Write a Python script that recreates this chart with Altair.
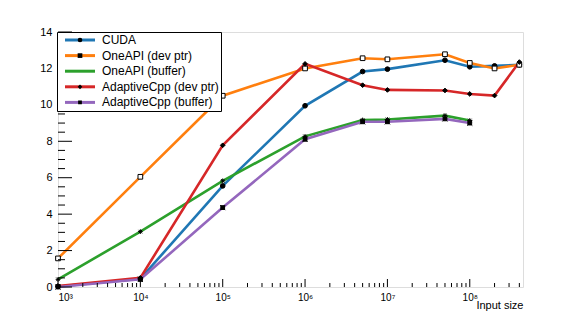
import altair as alt
import pandas as pd

sizes = [1e3, 1e4, 1e5, 1e6, 5e6, 1e7, 5e7, 1e8, 2e8, 4e8]
series_names = ["CUDA", "OneAPI (dev ptr)", "OneAPI (buffer)", "AdaptiveCpp (dev ptr)", "AdaptiveCpp (buffer)"]
colors = ["#1f77b4", "#ff7f0e", "#2ca02c", "#d62728", "#9467bd"]

cuda = [0.03, 0.45, 5.55, 9.95, 11.83, 11.96, 12.45, 12.09, 12.14, 12.2]
oneapi_dev = [1.57, 6.05, 10.5, 12.0, 12.56, 12.5, 12.78, 12.3, 12.0, 12.2]
oneapi_buf = [0.42, 3.04, 5.83, 8.27, 9.17, 9.2, 9.41, 9.14]
acpp_dev = [0.05, 0.5, 7.78, 12.25, 11.08, 10.82, 10.79, 10.6, 10.51, 12.35]
acpp_buf = [0.0, 0.42, 4.36, 8.11, 9.07, 9.07, 9.23, 9.0]

x_major = [1e3, 1e4, 1e5, 1e6, 1e7, 1e8]
x_minor = [m * d for d in [1e3, 1e4, 1e5, 1e6, 1e7, 1e8] for m in range(2, 10) if m * d <= 4.4e8]
y_major = [0, 2, 4, 6, 8, 10, 12, 14]
y_minor = [v / 2 for v in range(0, 29) if v % 4 != 0]

rows = []
for name, vals in zip(series_names, [cuda, oneapi_dev, oneapi_buf, acpp_dev, acpp_buf]):
    for i, (s, v) in enumerate(zip(sizes, vals)):
        rows.append({"size": s, "value": v, "series": name, "series2": name, "ord": i})
df = pd.DataFrame(rows)

W, H = 465, 255
xscale = alt.Scale(type="log", domain=[1000, 4.43e8], nice=False)
yscale = alt.Scale(domain=[0, 14], nice=False)

sup = "{'0':'⁰','1':'¹','2':'²','3':'³','4':'⁴','5':'⁵','6':'⁶','7':'⁷','8':'⁸','9':'⁹'}"
def xaxis():
    return alt.Axis(values=x_major, ticks=False, domain=False, grid=False, labelFontSize=10,
                    labelPadding=5, labelOverlap=False,
                    labelExpr="'10' + " + sup + "[format(log(datum.value)/log(10), '.0f')]",
                    title="Input size", titleAnchor="end", titleAlign="right", titleX=W, titleY=12,
                    titleBaseline="top", titleFontSize=11, titleFontWeight="normal")
def yaxis():
    return alt.Axis(values=y_major, ticks=False, domain=False, grid=False, labelFontSize=11,
                    labelPadding=6, labelOverlap=False, title=None)

FS = 12
PAD = 2
RP = 3.6
lines = alt.Chart(df).mark_line(strokeWidth=2.6).encode(
    x=alt.X("size:Q", scale=xscale, axis=xaxis()),
    y=alt.Y("value:Q", scale=yscale, axis=yaxis()),
    color=alt.Color("series:N", scale=alt.Scale(domain=series_names, range=colors),
                    legend=alt.Legend(orient="none", legendX=-1, legendY=0, title=None,
                                      fillColor="white", strokeColor="black", padding=PAD,
                                      symbolType="M0,0L20,0", symbolSize=9, symbolStrokeWidth=3,
                                      labelFontSize=FS, labelOffset=31, rowPadding=RP,
                                      labelExpr="datum.label + '   '",
                                      labelFont="Liberation Sans")),
    order="ord:Q",
)

shape_paths = [
    "circle",
    "square",
    "M0,-1L0,1M-1,0L1,0M-0.75,-0.75L0.75,0.75M-0.75,0.75L0.75,-0.75",
    "diamond",
    "M-0.8,-0.8L0.8,-0.8L0.8,0.8L-0.8,0.8Z M-1.1,-1.1L1.1,1.1M-1.1,1.1L1.1,-1.1",
]
MS = 22
points = alt.Chart(df).mark_point(filled=False, strokeWidth=1, color="black", size=MS, opacity=1).encode(
    x=alt.X("size:Q", scale=xscale, axis=xaxis()),
    y=alt.Y("value:Q", scale=yscale, axis=yaxis()),
    shape=alt.Shape("series2:N", scale=alt.Scale(domain=series_names, range=shape_paths),
                    legend=alt.Legend(orient="none", legendX=14, legendY=0, title=None, padding=PAD,
                                      symbolSize=MS, symbolStrokeColor="black",
                                      symbolFillColor={"expr": "datum.value === 'OneAPI (dev ptr)' ? 'white' : 'black'"},
                                      symbolStrokeWidth=1, labelExpr="' '",
                                      labelFontSize=FS, labelOffset=7, rowPadding=RP,
                                      labelFont="Liberation Sans")),
    fill=alt.condition(alt.datum.series == "OneAPI (dev ptr)", alt.value("white"), alt.value("black")),
)

def xt(vals, length):
    return alt.Chart(pd.DataFrame({"v": vals})).mark_rule(color="black", strokeWidth=1).encode(
        x=alt.X("v:Q", scale=xscale, axis=xaxis()), y=alt.value(H), y2=alt.value(H - length))
def yt(vals, length):
    return alt.Chart(pd.DataFrame({"v": vals})).mark_rule(color="black", strokeWidth=1).encode(
        y=alt.Y("v:Q", scale=yscale, axis=yaxis()), x=alt.value(0), x2=alt.value(length))

chart = alt.layer(lines, points, xt(x_major, 8), xt(x_minor, 4), yt(y_major, 14), yt(y_minor, 7)).resolve_legend(
    color="independent", shape="independent"
).properties(
    width=W, height=H,
    autosize=alt.AutoSizeParams(type="none"),
    padding={"left": 50, "top": 24, "right": 50, "bottom": 32},
).configure_view(stroke="black", strokeWidth=1).configure(font="Liberation Sans")

chart.save("out.html", embed_options={"renderer": "svg", "actions": False})
